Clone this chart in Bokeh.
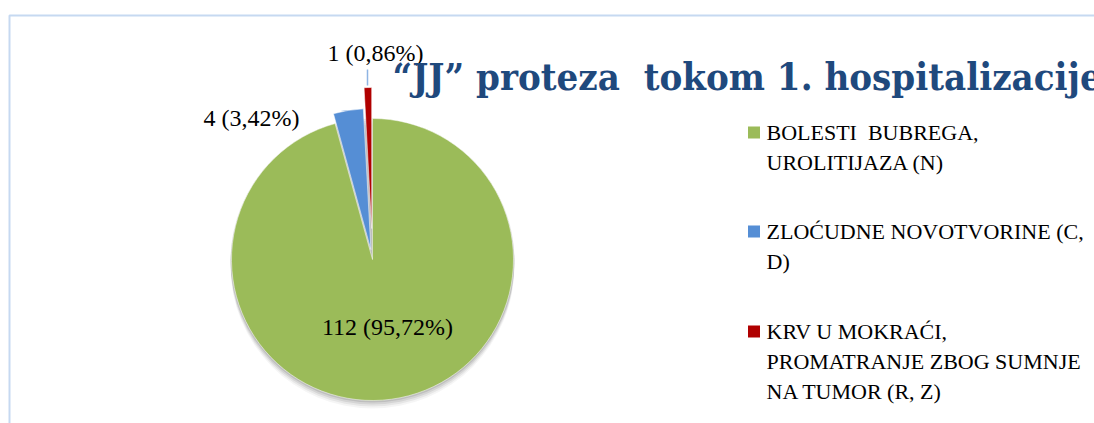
import math
from bokeh.plotting import figure
from bokeh.models import Range1d
from bokeh.core.properties import value
from bokeh.embed import file_html
from bokeh.resources import INLINE

# ---- data ----
categories = [
    ["BOLESTI\u00a0 BUBREGA,", "UROLITIJAZA (N)"],
    ["ZLOĆUDNE NOVOTVORINE (C,", "D)"],
    ["KRV U MOKRAĆI,", "PROMATRANJE ZBOG SUMNJE", "NA TUMOR (R, Z)"],
]
counts = [112, 4, 1]
pct_labels = ["95,72%", "3,42%", "0,86%"]
colors = ["#9BBB59", "#558ED5", "#B00000"]
explode = [0, 10, 31]
title_text = "\u201cJJ\u201d proteza\u00a0 tokom 1. hospitalizacije"

W, H = 1094, 423
p = figure(width=W, height=H, output_backend="svg", toolbar_location=None,
           x_range=Range1d(0, W), y_range=Range1d(0, H), min_border=0)
p.axis.visible = False
p.grid.visible = False
p.outline_line_color = None
p.background_fill_color = "white"

# chart border (light blue)
p.line([9, 9, W], [0, 408, 408], line_color="#C6D9F1", line_width=2)

cx, cy, r = 372, 164, 141
total = sum(counts)

# soft shadow
for k, a in [(7, 0.04), (5, 0.06), (3, 0.08), (1, 0.1)]:
    p.circle(x=cx, y=cy - k, radius=r + 1, fill_color="#000000", fill_alpha=a, line_color=None)

# wedges: Excel-style, start at 12 o'clock, clockwise
cum = 0.0
for v, c, e in zip(counts, colors, explode):
    a0 = cum / total * 360.0
    cum += v
    a1 = cum / total * 360.0
    start = math.radians(90 - a1)
    end = math.radians(90 - a0)
    mid = (start + end) / 2
    ox = cx + e * math.cos(mid)
    oy = cy + e * math.sin(mid)
    p.wedge(x=ox, y=oy, radius=r, start_angle=start, end_angle=end,
            fill_color=c, line_color="white", line_width=0.5)

font = value("Liberation Serif")
# data labels
label_pos = [(387, 97), (251, 306), (375, 371)]
for (lx, ly), n, pc in zip(label_pos, counts, pct_labels):
    p.text(x=[lx], y=[ly], text=[f"{n} ({pc})"], text_font=font,
           text_font_size="24px", text_color="#000000",
           text_align="center", text_baseline="middle")

# leader line for the smallest label
p.line([367, 367], [354, 338], line_color="#8EB4E3", line_width=1.5)

# title
p.text(x=[392], y=[347], text=[title_text], text_font=value("DejaVu Serif Condensed"),
       text_font_style="bold", text_font_size="38px", text_color="#1F497D",
       text_align="left", text_baseline="middle")

# legend
leg_y = [291, 192, 92]
for lines, c, yy in zip(categories, colors, leg_y):
    p.rect(x=[753.5], y=[yy], width=12, height=12, fill_color=c, line_color=None)
    for i, ln in enumerate(lines):
        p.text(x=[766], y=[yy - 30 * i], text=[ln], text_font=font,
               text_font_size="22px", text_color="#000000",
               text_align="left", text_baseline="middle")

html = file_html(p, INLINE)
open("out.html", "w").write(html)
